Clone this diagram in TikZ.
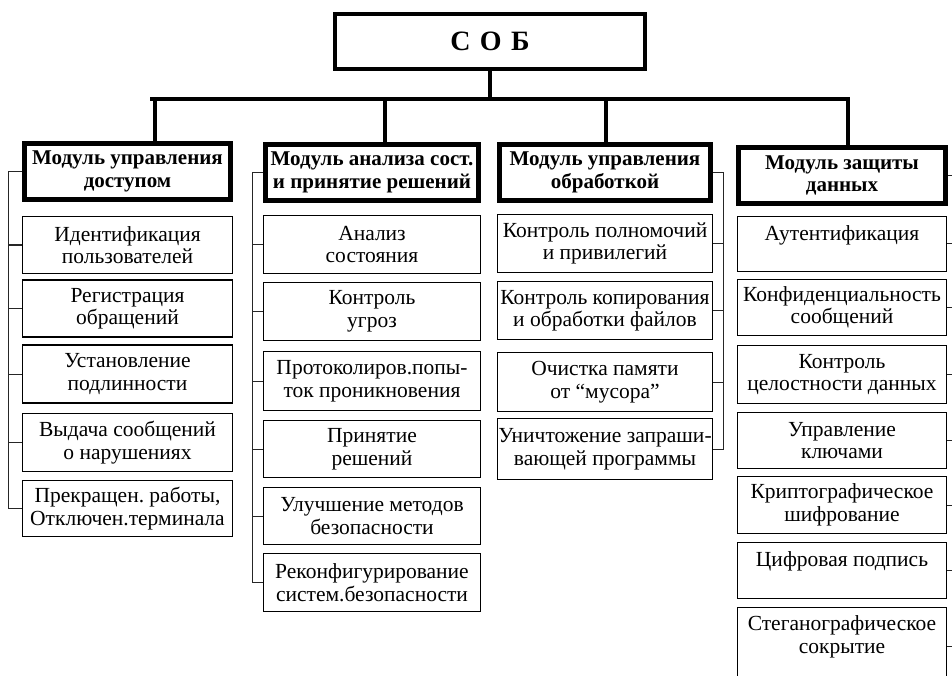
\documentclass[tikz,border=0pt]{standalone}
\usepackage{fontspec}
\setmainfont{Liberation Serif}
\frenchspacing
\usetikzlibrary{calc}

\begin{document}
\begin{tikzpicture}[x=1pt, y=-1pt,
  root/.style={draw, line width=4pt, minimum width=310pt, minimum height=55pt,
    inner sep=0pt, font=\fontsize{28}{30}\selectfont\bfseries},
  head/.style={draw, line width=4.5pt, minimum height=56pt, inner sep=0pt,
    align=center, font=\fontsize{21}{22.5}\selectfont\bfseries},
  item/.style={draw, line width=1.3pt, inner sep=0pt, align=center,
    font=\fontsize{21.5}{22.5}\selectfont},
  trunk/.style={line width=3.5pt},
  side/.style={line width=1pt, black!85}]

% Page: 952 x 676, y runs downwards
\useasboundingbox (0,0) rectangle (952,676);
\clip (0,0) rectangle (952,676);

% Top block
\node[root] (sob) at (490,41.5) {С\,\,О\,\,Б};

% Module headers
\node[head, minimum width=206pt] (h1) at (127.5,171.5) {Модуль управления\\доступом};
\node[head, minimum width=213pt] (h2) at (372,172.5) {Модуль анализа сост.\\и принятие решений};
\node[head, minimum width=211pt] (h3) at (605,172.5) {Модуль управления\\обработкой};
\node[head, minimum width=207pt] (h4) at (842,175.5) {Модуль защиты\\данных};

% Access control module
\node[item, minimum width=210pt, minimum height=57pt] (a1) at (127.5,245) {Идентификация\\пользователей};
\node[item, minimum width=210pt, minimum height=57pt] (a2) at (127.5,308.5) {Регистрация\\обращений};
\node[item, minimum width=210pt, minimum height=58pt] (a3) at (127.5,374) {Установление\\подлинности};
\node[item, minimum width=210pt, minimum height=58pt] (a4) at (127.5,442.5) {Выдача сообщений\\о нарушениях};
\node[item, minimum width=210pt, minimum height=56pt] (a5) at (127.5,508.5) {Прекращен. работы,\\Отключен.терминала};

% State analysis module
\node[item, minimum width=217pt, minimum height=58pt] (b1) at (372,244.5) {Анализ\\состояния};
\node[item, minimum width=217pt, minimum height=58pt] (b2) at (372,311.5) {Контроль\\угроз};
\node[item, minimum width=217pt, minimum height=59pt] (b3) at (372,381) {Протоколиров.попы-\\ток проникновения};
\node[item, minimum width=217pt, minimum height=57pt] (b4) at (372,449) {Принятие\\решений};
\node[item, minimum width=217pt, minimum height=57pt] (b5) at (372,516) {Улучшение методов\\безопасности};
\node[item, minimum width=217pt, minimum height=58pt] (b6) at (372,582.5) {Реконфигурирование\\систем.безопасности};

% Processing control module
\node[item, minimum width=215pt, minimum height=58pt] (c1) at (605,243.5) {Контроль полномочий\\и привилегий};
\node[item, minimum width=215pt, minimum height=58pt] (c2) at (605,310.5) {Контроль копирования\\и обработки файлов};
\node[item, minimum width=215pt, minimum height=59pt] (c3) at (605,382) {Очистка памяти\\от “мусора”};
\node[item, minimum width=215pt, minimum height=61pt] (c4) at (605,449) {Уничтожение запраши-\\вающей программы};

% Data protection module
\node[item, minimum width=209pt, minimum height=55pt] (d1) at (842,244) {Аутентификация\\\mbox{}};
\node[item, minimum width=209pt, minimum height=56pt] (d2) at (842,307.5) {Конфиденциальность\\сообщений};
\node[item, minimum width=209pt, minimum height=58pt] (d3) at (842,374.5) {Контроль\\целостности данных};
\node[item, minimum width=209pt, minimum height=56pt] (d4) at (842,440.5) {Управление\\ключами};
\node[item, minimum width=209pt, minimum height=57pt] (d5) at (842,505) {Криптографическое\\шифрование};
\node[item, minimum width=209pt, minimum height=56pt] (d6) at (842,570.5) {Цифровая подпись\\\mbox{}};
\node[item, minimum width=209pt, minimum height=77pt] (d7) at (842,646) {Стеганографическое\\сокрытие\\\mbox{}};

% Main tree
\coordinate (busl) at (150,99);
\coordinate (busr) at (850,99);
\coordinate (t1) at (155,99);
\coordinate (t2) at (385,99);
\coordinate (t3) at (606,99);
\coordinate (t4) at (848,99);
\draw[trunk] (busl) -- (busr);
\draw[trunk] (sob.south) -- (sob.south |- busl);
\draw[trunk] (t1) -- (t1 |- h1.north);
\draw[trunk] (t2) -- (t2 |- h2.north);
\draw[trunk] (t3) -- (t3 |- h3.north);
\draw[trunk] (t4) -- (t4 |- h4.north);

% Side bus, left module
\coordinate (s1) at (8,0);
\draw[side] (h1.west) -- (h1.west -| s1) -- (a5.west -| s1) -- (a5.west);
\draw[side] (a1.west) -- (a1.west -| s1);
\draw[side] (a2.west) -- (a2.west -| s1);
\draw[side] (a3.west) -- (a3.west -| s1);
\draw[side] (a4.west) -- (a4.west -| s1);

% Side bus, analysis module
\coordinate (s2) at (252,0);
\draw[side] (h2.west) -- (h2.west -| s2) -- (b6.west -| s2) -- (b6.west);
\draw[side] (b1.west) -- (b1.west -| s2);
\draw[side] (b2.west) -- (b2.west -| s2);
\draw[side] (b3.west) -- (b3.west -| s2);
\draw[side] (b4.west) -- (b4.west -| s2);
\draw[side] (b5.west) -- (b5.west -| s2);

% Side bus, processing module
\coordinate (s3) at (723,0);
\draw[side] (h3.east) -- (h3.east -| s3) -- (c4.east -| s3) -- (c4.east);
\draw[side] (c1.east) -- (c1.east -| s3);
\draw[side] (c2.east) -- (c2.east -| s3);
\draw[side] (c3.east) -- (c3.east -| s3);

% Side bus, protection module (runs past the right edge)
\coordinate (s4) at (956,0);
\draw[side] (h4.east) -- (h4.east -| s4) -- (d7.east -| s4) -- (d7.east);
\draw[side] (d1.east) -- (d1.east -| s4);
\draw[side] (d2.east) -- (d2.east -| s4);
\draw[side] (d3.east) -- (d3.east -| s4);
\draw[side] (d4.east) -- (d4.east -| s4);
\draw[side] (d5.east) -- (d5.east -| s4);
\draw[side] (d6.east) -- (d6.east -| s4);

\end{tikzpicture}
\end{document}
